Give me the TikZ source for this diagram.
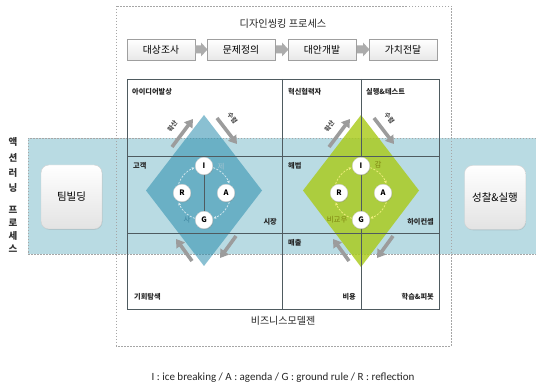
\documentclass[tikz,border=0pt]{standalone}
\usepackage{fontspec}
\setmainfont{Noto Sans CJK KR}
\newfontfamily\latinfont{Carlito}
\usetikzlibrary{arrows.meta,shadows}
\definecolor{bandblue}{HTML}{B9DBE3}
\definecolor{diablue}{HTML}{2A8DAE}
\definecolor{diagreen}{HTML}{AACB1A}
\definecolor{gridcol}{HTML}{4F5B60}
\definecolor{arrowgray}{HTML}{9C9C9C}
\definecolor{labolive}{HTML}{7F8410}
\definecolor{labblue}{HTML}{3F86A0}
\begin{document}
\begin{tikzpicture}[x=1pt,y=-1pt,
  dotbox/.style={draw=gray!70,dash pattern=on 1.5pt off 1.5pt,line width=0.6pt},
  procbox/.style={draw=gray!75,top color=white,bottom color=gray!18,minimum width=68pt,minimum height=21pt,inner sep=0pt,font=\fontsize{9.8}{11}\selectfont},
  blockarrow/.style={fill=gray!65},
  cell/.style={font=\bfseries\fontsize{7.2}{8}\selectfont,text=black!85,inner sep=0pt},
  gridline/.style={draw=gridcol,line width=0.9pt},
  bigarrow/.style={draw=arrowgray,line width=3.6pt,-{Triangle[length=8pt,width=10pt]}},
  arrowlab/.style={font=\bfseries\fontsize{6.3}{7}\selectfont,text=black!70,inner sep=0pt},
  ball/.style={circle,fill=white,draw=gray!35,line width=0.4pt,minimum size=17.5pt,inner sep=0pt,font=\bfseries\fontsize{7.5}{8}\selectfont,drop shadow={shadow xshift=0.6pt,shadow yshift=-0.8pt,opacity=0.35}},
  sidebox/.style={rounded corners=8pt,draw=gray!35,top color=white,bottom color=gray!22,minimum width=61pt,minimum height=64pt,font=\fontsize{10.5}{12}\selectfont,drop shadow={shadow xshift=0.5pt,shadow yshift=-0.8pt,opacity=0.25}},
  sidech/.style={font=\bfseries\fontsize{9.5}{10}\selectfont,text=black!80,inner sep=0pt}
]
\useasboundingbox (0,0) rectangle (536,387);
\fill[white] (0,0) rectangle (536,387);

% outer dotted box of the whole design process
\draw[dotbox] (116,6) rectangle (451,346);

% title and process steps
\node[font=\fontsize{10.2}{12}\selectfont,text=black!85] (title) at (283,24) {디자인씽킹 프로세스};
\node[procbox] (p1) at (161,49.5) {대상조사};
\node[procbox] (p2) at (241,49.5) {문제정의};
\node[procbox] (p3) at (322,49.5) {대안개발};
\node[procbox] (p4) at (403,49.5) {가치전달};
\foreach \xx in {195,276,357}{
  \fill[blockarrow] (\xx,45.5) -- (\xx+6,45.5) -- (\xx+6,42.5) -- (\xx+12.5,49.5) -- (\xx+6,56.5) -- (\xx+6,53.5) -- (\xx,53.5) -- cycle;
}

% action learning band
\fill[bandblue] (28,138) rectangle (536,254);
\draw[gray!70,dash pattern=on 1.5pt off 1.5pt,line width=0.6pt] (536,138) -- (28,138) -- (28,254) -- (536,254);
\draw[dotbox] (116,138) -- (116,254);
\draw[dotbox] (451,138) -- (451,254);

% diamonds
\fill[diablue,opacity=0.55] (204,115) -- (262,190.5) -- (204,266) -- (146,190.5) -- cycle;
\fill[diagreen,opacity=0.82] (361,115) -- (419,190.5) -- (361,267) -- (303,190.5) -- cycle;

% grid of the business model
\draw[gridline] (127,79) rectangle (439,309);
\draw[gridline] (127,156) -- (439,156);
\draw[gridline] (127,233) -- (439,233);
\draw[gridline] (282,79) -- (282,309);
\draw[gridline] (361,79) -- (361,309);

% cell labels
\node[cell,anchor=west] (c1) at (132,92) {아이디어발상};
\node[cell,anchor=west] (c2) at (288,92) {혁신협력자};
\node[cell,anchor=west] (c3) at (366,92) {실행\&테스트};
\node[cell,anchor=west] (c4) at (133,166) {고객};
\node[cell,anchor=west] (c5) at (288,166) {해법};
\node[cell,anchor=east] (c6) at (277,222) {시장};
\node[cell,anchor=east] (c7) at (434,222) {하이컨셉};
\node[cell,anchor=west] (c8) at (288,243) {매출};
\node[cell,anchor=west] (c9) at (134,297) {기회탐색};
\node[cell,anchor=east] (c10) at (356,297) {비용};
\node[cell,anchor=east] (c11) at (434,297) {학습\&피봇};
\node[font=\fontsize{10}{12}\selectfont,text=black!85] (bmg) at (283,321) {비즈니스모델젠};

% big gray arrows and circle groups for both diamonds
\foreach \dx/\nm/\arc in {0/L/white!80!diablue, 157/R/white!55!yellow!80!diagreen}{
  \begin{scope}[xshift=\dx pt]
    \draw[bigarrow] (172,147) -- (193,119);
    \draw[bigarrow] (217,118) -- (237,144);
    \draw[bigarrow] (192,261) -- (176,239);
    \draw[bigarrow] (236,236) -- (220,258);
    \node[arrowlab,rotate=55] (h\nm) at (172.5,126) {확산};
    \node[arrowlab,rotate=-55] (s\nm) at (232.5,118) {수렴};
    \foreach \sa in {-70,20,110,200}{
      \draw[\arc,line width=0.8pt,dash pattern=on 2pt off 1.5pt,-{Latex[length=3pt,width=3pt]}]
        ([shift={(204,193)}]\sa:27) arc[start angle=\sa,end angle=\sa+50,radius=27];
    }
  \end{scope}
}
\draw[gridcol,line width=0.8pt] (204,166) -- (204,220);

\node[ball] (IL) at (204,166) {I};
\node[ball] (AL) at (226,193) {A};
\node[ball] (GL) at (204,220) {G};
\node[ball] (RL) at (182,193) {R};
\node[ball] (IR) at (361,166) {I};
\node[ball] (AR) at (383,193) {A};
\node[ball] (GR) at (361,220) {G};
\node[ball] (RR) at (339,193) {R};

\node[font=\fontsize{7.5}{8}\selectfont,text=white!50!labblue,anchor=west] (jeL) at (214,167) {제};
\node[font=\fontsize{7.5}{8}\selectfont,text=labblue,anchor=east] (saL) at (194,220) {사};
\node[font=\fontsize{7.5}{8}\selectfont,text=labolive,anchor=west] (gamR) at (371,165) {감};
\node[font=\fontsize{7.5}{8}\selectfont,text=labolive,anchor=east] (biR) at (351,220) {비교우};

% side boxes
\node[sidebox] (team) at (71.5,197) {팀빌딩};
\node[sidebox] (refl) at (495,197.5) {성찰\&실행};

% vertical label
\foreach \ch/\yy [count=\k] in {액/142,션/158,러/173,닝/188,프/210,로/223,세/236,스/249}{
  \node[sidech] (v\k) at (13,\yy) {\ch};
}

% legend
\node[font=\latinfont\fontsize{11}{13}\selectfont,text=black!85] (legend) at (283,378) {I : ice breaking / A : agenda / G : ground rule / R : reflection};
\end{tikzpicture}
\end{document}
